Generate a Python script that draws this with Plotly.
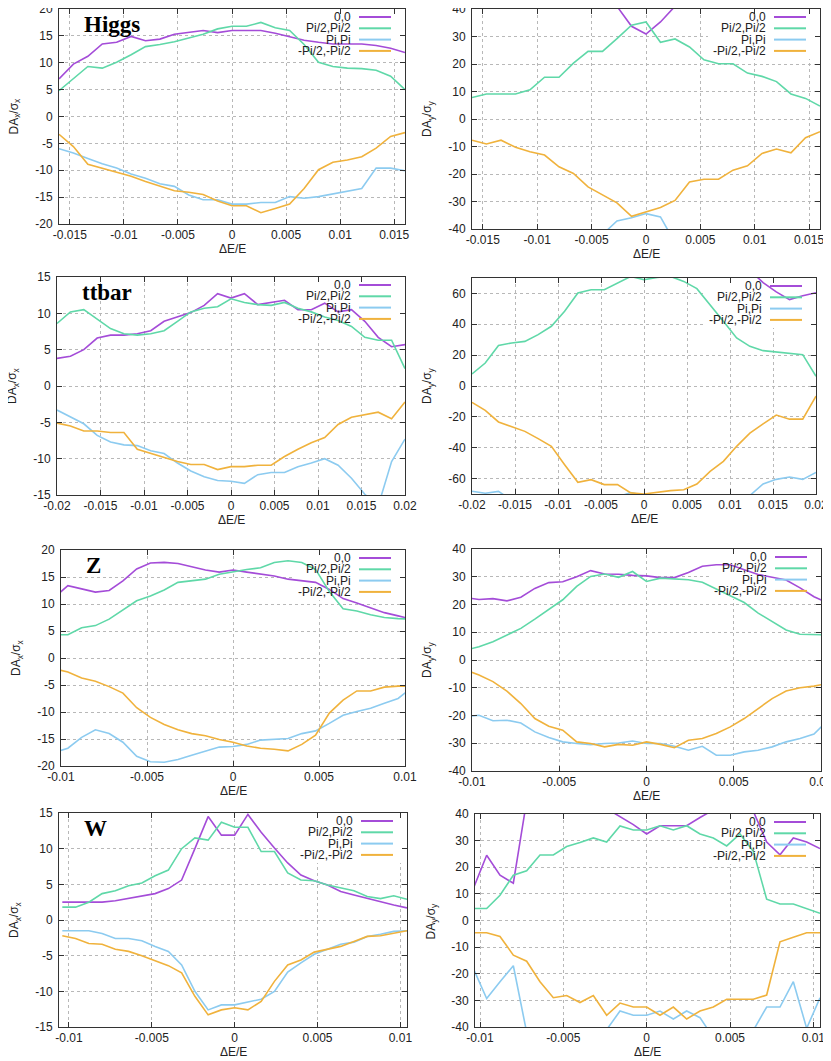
import plotly.graph_objects as go

# The page body has an 8px default margin; size the figure so that it fills the 831x1061 window.
PAGE_W, PAGE_H = 831, 1061
PAD = 8
FIG_W, FIG_H = PAGE_W - PAD, PAGE_H - PAD

# ---------------- data ----------------
series_names = ["0,0", "Pi/2,Pi/2", "Pi,Pi", "-Pi/2,-Pi/2"]
series_colors = ["#a44cd8", "#5fd8a8", "#8ccbf0", "#f0b23c"]

# Higgs (dE/E grid)
higgs_dE = [-0.016, -0.01467, -0.01333, -0.012, -0.01067, -0.00933, -0.008, -0.00667, -0.00533,
            -0.004, -0.00267, -0.00133, 0.0, 0.00133, 0.00267, 0.004, 0.00533, 0.00667, 0.008,
            0.00933, 0.01067, 0.012, 0.01333, 0.01467, 0.016]
higgs_x_00 = [7.0, 9.75, 11.2, 13.5, 13.8, 14.9, 14.1, 14.4, 15.3, 15.7, 16.0, 15.6, 16.0, 16.0, 16.0,
              15.5, 14.8, 14.2, 13.8, 13.5, 13.5, 13.5, 13.2, 12.7, 11.9]
higgs_x_pi2 = [4.8, 7.0, 9.3, 9.0, 10.1, 11.5, 13.0, 13.4, 13.9, 14.6, 15.3, 16.3, 16.8, 16.8, 17.5,
               16.5, 16.0, 13.4, 10.1, 9.3, 9.0, 8.9, 8.6, 7.5, 5.0]
higgs_x_pi = [-6.0, -6.8, -7.8, -8.8, -9.6, -10.7, -11.5, -12.5, -13.0, -14.6, -15.5, -15.5, -16.3,
              -16.3, -16.0, -16.0, -14.9, -15.2, -14.9, -14.4, -13.8, -13.4, -9.6, -9.6, -10.1]
higgs_x_mpi2 = [-3.3, -5.6, -8.9, -9.6, -10.4, -11.1, -12.1, -12.9, -13.8, -14.1, -14.5, -15.7, -16.6,
                -16.6, -17.9, -17.1, -16.3, -13.4, -9.9, -8.5, -8.1, -7.5, -5.9, -3.7, -3.0]
higgs_y_00 = [62, 60, 58, 57, 55, 53, 51, 49, 47, 45, 41, 33.7, 30.9, 35.3, 41, 45, 48, 50, 52, 54,
              56, 58, 60, 61, 62]
higgs_y_pi2 = [7.8, 9.1, 9.1, 9.1, 10.6, 15.2, 15.2, 20.3, 24.6, 24.6, 29.2, 34.1, 35.3, 27.9, 29.1,
               26.2, 21.5, 20.1, 20.1, 16.7, 15.5, 13.6, 9.1, 7.5, 4.7]
higgs_y_pi = [-62, -60, -58, -57, -55, -53, -51, -49, -47, -42, -37.1, -35.9, -34.4, -35.6, -45, -48,
              -50, -52, -54, -56, -58, -60, -61, -62, -63]
higgs_y_mpi2 = [-7.7, -9.1, -7.7, -10.3, -11.9, -13.1, -17.4, -19.8, -24.7, -27.7, -30.5, -35.4, -33.8,
                -32.2, -29.6, -22.9, -21.9, -21.9, -18.6, -17.0, -12.5, -10.9, -12.3, -6.8, -4.6]

# ttbar
ttbar_dE = [-0.02, -0.01846, -0.01692, -0.01538, -0.01385, -0.01231, -0.01077, -0.00923, -0.00769,
            -0.00615, -0.00462, -0.00308, -0.00154, 0.0, 0.00154, 0.00308, 0.00462, 0.00615, 0.00769,
            0.00923, 0.01077, 0.01231, 0.01385, 0.01538, 0.01692, 0.01846, 0.02]
ttbar_x_00 = [3.8, 4.1, 5.0, 6.6, 7.0, 7.0, 7.2, 7.6, 8.9, 9.5, 10.1, 11.1, 12.7, 12.1, 12.7, 11.2,
              11.5, 11.8, 10.5, 10.5, 11.4, 10.2, 10.5, 8.9, 6.7, 5.4, 5.7]
ttbar_x_pi2 = [8.6, 10.2, 10.5, 9.2, 7.9, 7.2, 7.0, 7.2, 7.6, 8.9, 10.2, 10.7, 10.9, 12.0, 11.5, 11.2,
               11.1, 11.5, 10.7, 10.2, 9.5, 9.0, 8.2, 6.7, 6.3, 6.3, 2.4]
ttbar_x_pi = [-3.3, -4.3, -5.2, -6.8, -7.7, -8.1, -8.2, -8.9, -9.3, -10.6, -11.7, -12.5, -13.0, -13.1,
              -13.4, -12.2, -11.9, -11.9, -11.1, -10.6, -10.0, -10.9, -12.7, -14.9, -16.5, -10.4, -7.3]
ttbar_x_mpi2 = [-5.1, -5.5, -6.2, -6.2, -6.4, -6.4, -8.7, -9.3, -9.9, -10.4, -10.8, -10.8, -11.5, -11.1,
                -11.1, -10.9, -10.9, -9.7, -8.7, -7.8, -7.1, -5.3, -4.3, -3.9, -3.6, -4.5, -2.2]
ttbar_y_00 = [88, 86, 85, 84, 83, 83, 82, 82, 81, 81, 80, 80, 80, 80, 80, 80, 81, 81, 82, 80, 78, 75,
              67, 61, 56, 58.5, 60.5]
ttbar_y_pi2 = [7.8, 14.9, 26.3, 27.9, 28.9, 33.3, 38.7, 48.4, 60.3, 62.4, 62.4, 66.7, 71.0, 68.9, 70.4,
               71.0, 67.8, 63.1, 52.7, 41.9, 31.1, 25.7, 22.9, 22.0, 21.4, 20.3, 6.3]
ttbar_y_pi = [-68.2, -69.5, -68.3, -74, -76, -77, -78, -78, -78, -77, -76, -72, -69, -71, -74, -76,
              -77, -78, -78, -77, -75, -71, -63.5, -60.5, -59, -60.5, -56]
ttbar_y_mpi2 = [-10.6, -15.8, -23.3, -26.6, -29.4, -34.1, -39.1, -51.0, -62.4, -60.7, -63.9, -63.9,
                -69.3, -70.0, -68.7, -67.8, -67.2, -63.5, -55.3, -48.8, -39.1, -30.5, -24.5, -18.8,
                -21.5, -21.5, -6.5]

# Z and W share the same grid
zw_dE = [-0.0104, -0.0096, -0.0088, -0.008, -0.0072, -0.0064, -0.0056, -0.0048, -0.004, -0.0032,
         -0.0024, -0.0016, -0.0008, 0.0, 0.0008, 0.0016, 0.0024, 0.0032, 0.004, 0.0048, 0.0056,
         0.0064, 0.0072, 0.008, 0.0088, 0.0096, 0.0104]
z_x_00 = [11.2, 13.4, 12.8, 12.2, 12.5, 14.3, 16.5, 17.6, 17.7, 17.5, 16.9, 16.3, 15.9, 16.3, 15.9,
          15.5, 15.2, 14.6, 14.3, 14.0, 12.7, 11.0, 10.2, 9.3, 8.4, 7.8, 7.2]
z_x_pi2 = [4.3, 4.3, 5.6, 6.0, 7.2, 8.9, 10.6, 11.5, 12.6, 14.0, 14.3, 14.6, 15.5, 16.0, 16.4, 16.7,
           17.7, 18.0, 17.7, 16.4, 12.3, 9.1, 8.7, 8.0, 7.5, 7.3, 7.2]
z_x_pi = [-17.5, -16.7, -14.7, -13.3, -14.0, -15.6, -18.2, -19.2, -19.3, -18.8, -18.0, -17.2, -16.5,
          -16.4, -16.0, -15.2, -15.1, -14.9, -14.0, -13.5, -12.1, -10.6, -9.9, -9.3, -8.4, -7.5, -5.5]
z_x_mpi2 = [-2.0, -2.6, -3.7, -4.3, -5.3, -6.5, -9.2, -11.0, -12.3, -13.3, -14.0, -14.4, -15.1, -15.6,
            -16.3, -16.7, -16.9, -17.2, -16.0, -14.3, -10.2, -7.8, -6.1, -6.1, -5.4, -5.2, -5.2]
z_y_00 = [22.5, 21.8, 22.1, 21.3, 22.6, 25.8, 27.9, 28.2, 30.0, 32.2, 31.0, 30.9, 30.5, 30.3, 29.7,
          29.7, 31.5, 33.8, 34.3, 34.3, 32.5, 30.8, 29.8, 28.8, 26.0, 22.8, 20.5]
z_y_pi2 = [3.5, 4.8, 6.6, 9.0, 11.4, 14.7, 18.1, 21.7, 26.5, 30.1, 31.0, 29.8, 31.9, 28.3, 29.5, 29.3,
           28.9, 28.0, 25.5, 23.1, 20.7, 16.9, 13.9, 10.8, 9.3, 9.3, 9.0]
z_y_pi = [-20.5, -19.9, -21.9, -21.7, -22.7, -25.9, -27.9, -29.5, -30.1, -30.5, -30.1, -29.9, -29.2,
          -30.1, -30.1, -31.1, -32.5, -31.1, -34.3, -34.3, -33.1, -32.5, -31.3, -29.5, -28.3, -26.7, -21.7]
z_y_mpi2 = [-3.5, -5.4, -7.8, -11.2, -15.7, -21.1, -23.9, -25.3, -29.5, -30.1, -31.3, -30.4, -30.7,
            -29.5, -30.4, -31.6, -28.9, -28.3, -26.5, -24.1, -21.1, -17.5, -13.9, -11.2, -10.0, -9.4, -8.4]
w_x_00 = [2.5, 2.5, 2.5, 2.5, 2.7, 3.0, 3.3, 3.7, 4.4, 5.6, 10.0, 14.5, 11.9, 11.9, 14.8, 12.3, 10.1,
          8.0, 6.3, 5.5, 4.9, 4.0, 3.5, 3.0, 2.6, 2.1, 1.7]
w_x_pi2 = [1.8, 1.8, 2.5, 3.7, 4.1, 4.8, 5.2, 6.2, 7.0, 10.0, 11.5, 11.2, 13.7, 13.0, 13.0, 9.6, 9.6,
           6.6, 5.6, 5.5, 4.9, 4.5, 4.1, 3.3, 3.0, 3.4, 2.9]
w_x_pi = [-1.5, -1.5, -1.5, -1.9, -2.6, -2.6, -2.9, -3.7, -4.4, -6.3, -10.0, -12.6, -11.9, -11.9,
          -11.5, -11.1, -10.0, -7.3, -6.0, -4.8, -4.1, -3.4, -3.1, -2.3, -2.0, -1.6, -1.5]
w_x_mpi2 = [-2.2, -2.6, -3.3, -3.4, -4.1, -4.4, -5.0, -5.7, -6.4, -7.4, -10.7, -13.3, -12.6, -12.3,
            -12.6, -11.4, -8.6, -6.3, -5.6, -4.5, -4.1, -3.7, -3.0, -2.3, -2.2, -1.8, -1.5]
w_y_00 = [12, 24.5, 17, 14, 45, 60, 70, 70, 65, 55, 42, 39, 36, 32.5, 35.6, 35.6, 35.6, 38.7, 41.5,
          50, 55, 41, 29.5, 24.7, 31, 29.5, 27]
w_y_pi2 = [4.5, 4.5, 9.5, 17, 18.7, 24.6, 24.6, 27.8, 29.3, 31, 29.5, 35.5, 34, 34, 35.6, 34, 35.6,
           32.5, 31, 28, 32.5, 26, 8, 6.2, 6.2, 4.5, 2.7]
w_y_pi = [-18, -29.3, -23, -17, -42, -50, -55, -55, -50, -48, -41, -34, -35.6, -35.6, -34, -37, -34,
          -36.5, -44, -50, -50, -41, -32.5, -32.5, -23, -40.5, -29]
w_y_mpi2 = [-4.6, -4.6, -6.0, -13, -15.3, -23, -29, -28.2, -30.8, -28.2, -35.6, -31, -32.5, -32.5,
            -35.6, -32.5, -37, -34, -32.5, -29.6, -29.6, -29.6, -28, -8, -6.3, -4.6, -4.6]

# tick labels
higgs_xticks = [-0.015, -0.01, -0.005, 0, 0.005, 0.01, 0.015]
higgs_xlabels = ["-0.015", "-0.01", "-0.005", "0", "0.005", "0.01", "0.015"]
ttbar_xticks = [-0.02, -0.015, -0.01, -0.005, 0, 0.005, 0.01, 0.015, 0.02]
ttbar_xlabels = ["-0.02", "-0.015", "-0.01", "-0.005", "0", "0.005", "0.01", "0.015", "0.02"]
zw_xticks = [-0.01, -0.005, 0, 0.005, 0.01]
zw_xlabels = ["-0.01", "-0.005", "0", "0.005", "0.01"]
yticks_20_5 = [-20, -15, -10, -5, 0, 5, 10, 15, 20]
yticks_15_5 = [-15, -10, -5, 0, 5, 10, 15]
yticks_40_10 = [-40, -30, -20, -10, 0, 10, 20, 30, 40]
yticks_60_20 = [-60, -40, -20, 0, 20, 40, 60]

ytitle_x = "DA<sub>x</sub>/σ<sub>x</sub>"
ytitle_y = "DA<sub>y</sub>/σ<sub>y</sub>"
xtitle = "ΔE/E"

# ---------------- layout of panels (page pixel boxes: left, top, right, bottom) ----------------
panels = [
    dict(x=higgs_dE, ys=[higgs_x_00, higgs_x_pi2, higgs_x_pi, higgs_x_mpi2], xr=[-0.016, 0.016], yr=[-20, 20],
         xt=higgs_xticks, xl=higgs_xlabels, yt=yticks_20_5, yl=ytitle_x, box=(59, 9, 405, 224), title="Higgs"),
    dict(x=higgs_dE, ys=[higgs_y_00, higgs_y_pi2, higgs_y_pi, higgs_y_mpi2], xr=[-0.016, 0.016], yr=[-40, 40],
         xt=higgs_xticks, xl=higgs_xlabels, yt=yticks_40_10, yl=ytitle_y, box=(472, 9, 820, 229), title=None),
    dict(x=ttbar_dE, ys=[ttbar_x_00, ttbar_x_pi2, ttbar_x_pi, ttbar_x_mpi2], xr=[-0.02, 0.02], yr=[-15, 15],
         xt=ttbar_xticks, xl=ttbar_xlabels, yt=yticks_15_5, yl=ytitle_x, box=(57, 277, 405, 495), title="ttbar"),
    dict(x=ttbar_dE, ys=[ttbar_y_00, ttbar_y_pi2, ttbar_y_pi, ttbar_y_mpi2], xr=[-0.02, 0.02], yr=[-70, 70],
         xt=ttbar_xticks, xl=ttbar_xlabels, yt=yticks_60_20, yl=ytitle_y, box=(472, 278, 816, 494), title=None),
    dict(x=zw_dE, ys=[z_x_00, z_x_pi2, z_x_pi, z_x_mpi2], xr=[-0.01, 0.01], yr=[-20, 20],
         xt=zw_xticks, xl=zw_xlabels, yt=yticks_20_5, yl=ytitle_x, box=(61, 550, 405, 766), title="Z"),
    dict(x=zw_dE, ys=[z_y_00, z_y_pi2, z_y_pi, z_y_mpi2], xr=[-0.01, 0.01], yr=[-40, 40],
         xt=zw_xticks, xl=zw_xlabels, yt=yticks_40_10, yl=ytitle_y, box=(472, 549, 821, 771), title=None),
    dict(x=zw_dE, ys=[w_x_00, w_x_pi2, w_x_pi, w_x_mpi2], xr=[-0.0106, 0.0104], yr=[-15, 15],
         xt=zw_xticks, xl=zw_xlabels, yt=yticks_15_5, yl=ytitle_x, box=(59, 813, 407, 1027), title="W"),
    dict(x=zw_dE, ys=[w_y_00, w_y_pi2, w_y_pi, w_y_mpi2], xr=[-0.0103, 0.0104], yr=[-40, 40],
         xt=zw_xticks, xl=zw_xlabels, yt=yticks_40_10, yl=ytitle_y, box=(475, 814, 820, 1027), title=None),
]

SANS = "Liberation Sans, Arial, sans-serif"
SERIF = "Liberation Serif, Times New Roman, serif"


def px(xp):
    return (xp - PAD) / FIG_W


def py(yp):
    return 1 - (yp - PAD) / FIG_H


fig = go.Figure()
layout = dict(width=FIG_W, height=FIG_H, margin=dict(l=0, r=0, t=0, b=0),
              paper_bgcolor="white", plot_bgcolor="white", showlegend=False)
annotations = []
shapes = []

axis_common = dict(showline=True, mirror="ticks", linecolor="#333333", linewidth=1,
                   ticks="inside", ticklen=5, tickcolor="#333333", tickwidth=1,
                   showgrid=True, gridcolor="#b8b8b8", griddash="dot", gridwidth=1,
                   zeroline=False, automargin=False, fixedrange=True, ticklabeloverflow="allow",
                   tickfont=dict(family=SANS, size=12, color="#222222"))

for i, p in enumerate(panels, start=1):
    l, t, r, b = p["box"]
    xa = "xaxis" if i == 1 else f"xaxis{i}"
    ya = "yaxis" if i == 1 else f"yaxis{i}"
    xid = "x" if i == 1 else f"x{i}"
    yid = "y" if i == 1 else f"y{i}"
    layout[xa] = dict(axis_common, domain=[px(l), px(r)], anchor=yid, range=p["xr"],
                      tickmode="array", tickvals=p["xt"], ticktext=p["xl"])
    layout[ya] = dict(axis_common, domain=[py(b), py(t)], anchor=xid, range=p["yr"],
                      tickmode="array", tickvals=p["yt"], ticktext=[str(v) for v in p["yt"]],
                      ticklabelstandoff=3)

    for name, color, ys in zip(series_names, series_colors, p["ys"]):
        fig.add_trace(go.Scatter(x=p["x"], y=ys, mode="lines", name=name,
                                 line=dict(color=color, width=1.6),
                                 xaxis=xid, yaxis=yid, showlegend=False, hoverinfo="skip"))

    xmax, ymax = p["xr"][1], p["yr"][1]
    # opaque key background (hides grid, sits under data)
    shapes.append(dict(type="rect", xref=xid, yref=yid,
                       xsizemode="pixel", xanchor=xmax, x0=-112, x1=-1,
                       ysizemode="pixel", yanchor=ymax, y0=-50, y1=-1,
                       fillcolor="white", line=dict(width=0), layer="between"))
    # key entries
    for j, (name, color) in enumerate(zip(series_names, series_colors)):
        yoff = -(8 + 11.3 * j)
        annotations.append(dict(xref=f"{xid} domain", yref=f"{yid} domain", x=1, y=1,
                                xanchor="right", yanchor="middle", xshift=-52, yshift=yoff,
                                text=name, showarrow=False,
                                font=dict(family=SANS, size=12, color="#222222")))
        shapes.append(dict(type="line", xref=xid, yref=yid,
                           xsizemode="pixel", xanchor=xmax, x0=-46, x1=-14,
                           ysizemode="pixel", yanchor=ymax, y0=yoff, y1=yoff,
                           line=dict(color=color, width=2), layer="above"))

    # axis titles
    annotations.append(dict(xref="paper", yref="paper", x=px((l + r) / 2), y=py(b + 25),
                            xanchor="center", yanchor="middle", text=xtitle, showarrow=False,
                            font=dict(family=SANS, size=12, color="#222222")))
    annotations.append(dict(xref="paper", yref="paper", x=px(l - 44), y=py((t + b) / 2),
                            xanchor="center", yanchor="middle", text=p["yl"], textangle=-90,
                            showarrow=False, font=dict(family=SANS, size=12, color="#222222")))
    if p["title"]:
        annotations.append(dict(xref="paper", yref="paper", x=px(l + 23), y=py(t + 15),
                                xanchor="left", yanchor="middle", text=f"<b>{p['title']}</b>",
                                showarrow=False, font=dict(family=SERIF, size=23, color="black")))

layout["annotations"] = annotations
layout["shapes"] = shapes
fig.update_layout(**layout)
fig.write_html("out.html")
